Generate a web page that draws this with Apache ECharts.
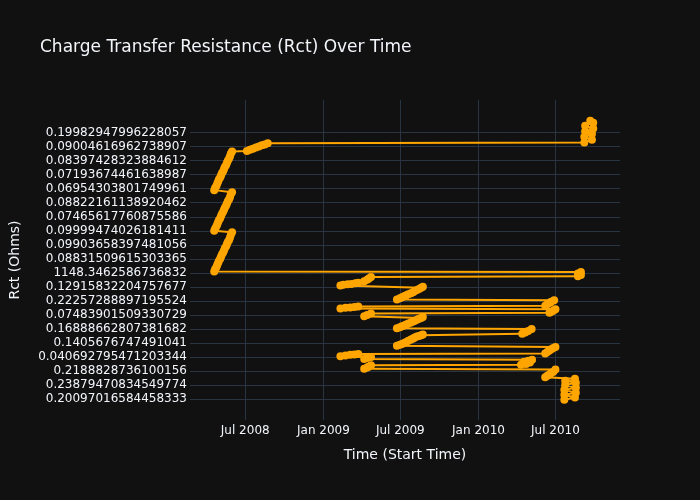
<!DOCTYPE html>
<html>
<head>
<meta charset="utf-8">
<script src="https://cdn.jsdelivr.net/npm/echarts@6/dist/echarts.min.js"></script>
<style>html,body{margin:0;padding:0;background:#111111;}#c{width:700px;height:500px;}</style>
</head>
<body>
<div id="c"></div>
<script>
// Category labels of the Rct axis (bottom to top), as printed on the chart
const yTickLabels = [
  '0.20097016584458333','0.23879470834549774','0.2188828736100156','0.040692795471203344',
  '0.1405676747491041','0.16888662807381682','0.07483901509330729','0.22257288897195524',
  '0.12915832204757677','1148.3462586736832','0.08831509615303365','0.09903658397481056',
  '0.09999474026181411','0.07465617760875586','0.08822161138920462','0.06954303801749961',
  '0.07193674461638987','0.08397428323884612','0.09004616962738907','0.19982947996228057'
];
const xTickDates = ['2008-07-01','2009-01-01','2009-07-01','2010-01-01','2010-07-01'];
const xTickLabels = ['Jul 2008','Jan 2009','Jul 2009','Jan 2010','Jul 2010'];

// Start time of each measurement (data order)
const startTimes = [
  '2010-07-22','2010-08-16','2010-07-22','2010-08-18','2010-07-22','2010-08-18','2010-07-24','2010-08-18','2010-07-24','2010-08-16',
  '2010-06-07','2010-06-12','2010-06-17','2010-06-21','2010-06-26','2010-07-01',
  '2009-04-07','2009-04-14','2009-04-18','2009-04-23',
  '2010-04-11','2010-04-23','2010-05-02','2010-04-18','2010-04-28','2010-05-07',
  '2009-04-07','2009-04-14','2009-04-23',
  '2009-02-10','2009-02-22','2009-03-05','2009-03-15','2009-03-24',
  '2010-06-07','2010-06-12','2010-06-17','2010-06-21','2010-06-26','2010-07-01',
  '2009-06-23','2009-06-30','2009-07-05','2009-07-10','2009-07-15','2009-07-20','2009-07-26','2009-07-31','2009-08-04','2009-08-09','2009-08-14','2009-08-19','2009-08-23',
  '2010-04-14','2010-04-21','2010-04-28','2010-05-06',
  '2009-06-23','2009-06-30','2009-07-05','2009-07-10','2009-07-15','2009-07-20','2009-07-26','2009-07-31','2009-08-04','2009-08-09','2009-08-14','2009-08-19','2009-08-23',
  '2009-04-07','2009-04-14','2009-04-23',
  '2010-06-17','2010-06-21','2010-06-26','2010-07-01',
  '2009-02-10','2009-02-22','2009-03-05','2009-03-15','2009-03-24',
  '2010-06-07','2010-06-12','2010-06-17','2010-06-21','2010-06-28',
  '2009-06-23','2009-06-30','2009-07-05','2009-07-10','2009-07-15','2009-07-20','2009-07-26','2009-07-31','2009-08-04','2009-08-09','2009-08-14','2009-08-19','2009-08-23',
  '2009-02-10','2009-02-17','2009-02-27','2009-03-08','2009-03-17','2009-03-24',
  '2009-04-07','2009-04-14','2009-04-18','2009-04-23',
  '2010-08-23','2010-08-30','2010-08-23','2010-08-30',
  '2008-04-19','2008-04-21','2008-04-24','2008-04-26','2008-04-28','2008-04-30','2008-05-03','2008-05-05','2008-05-07','2008-05-10','2008-05-12','2008-05-14','2008-05-17','2008-05-19','2008-05-21','2008-05-24','2008-05-26','2008-05-28','2008-05-31',
  '2008-04-19','2008-04-21','2008-04-24','2008-04-26','2008-04-28','2008-04-30','2008-05-03','2008-05-05','2008-05-07','2008-05-10','2008-05-12','2008-05-14','2008-05-17','2008-05-19','2008-05-21','2008-05-24','2008-05-26','2008-05-28','2008-05-31',
  '2008-04-19','2008-04-21','2008-04-24','2008-04-26','2008-04-28','2008-04-30','2008-05-03','2008-05-05','2008-05-07','2008-05-10','2008-05-12','2008-05-14','2008-05-17','2008-05-19','2008-05-21','2008-05-24','2008-05-26','2008-05-28','2008-05-31',
  '2008-07-05','2008-07-12','2008-07-19','2008-07-26','2008-08-02','2008-08-09','2008-08-16','2008-08-23',
  '2010-09-07','2010-09-25','2010-09-07','2010-09-25','2010-09-09','2010-09-28','2010-09-09','2010-09-28','2010-09-21'
];
// Position of each Rct value on the categorical axis, in units of labelled ticks
const rctRank = [
  -0.05,0.1,0.3,0.45,0.65,0.8,1.0,1.15,1.3,1.45,
  1.55,1.65,1.75,1.85,1.95,2.1,
  2.15,2.25,2.32,2.4,
  2.45,2.5,2.6,2.65,2.72,2.8,
  2.85,2.92,3.0,
  3.05,3.1,3.15,3.17,3.2,
  3.25,3.35,3.45,3.55,3.63,3.7,
  3.8,3.87,3.93,4.0,4.07,4.15,4.25,4.32,4.38,4.45,4.5,4.55,4.6,
  4.65,4.75,4.85,5.0,
  5.05,5.12,5.19,5.25,5.32,5.39,5.45,5.52,5.58,5.65,5.72,5.78,5.85,
  5.9,6.0,6.1,
  6.15,6.22,6.3,6.4,
  6.45,6.5,6.53,6.56,6.6,
  6.65,6.75,6.85,6.93,7.05,
  7.1,7.18,7.25,7.32,7.4,7.48,7.55,7.62,7.7,7.78,7.85,7.93,8.0,
  8.1,8.15,8.18,8.2,8.25,8.3,
  8.4,8.5,8.6,8.7,
  8.75,8.85,8.95,9.05,
  9.1,9.25,9.4,9.55,9.7,9.85,10.0,10.15,10.3,10.45,10.6,10.75,10.9,11.05,11.2,11.35,11.5,11.7,11.9,
  12.0,12.15,12.3,12.45,12.6,12.75,12.9,13.05,13.2,13.35,13.5,13.65,13.8,13.95,14.1,14.25,14.4,14.6,14.75,
  14.9,15.05,15.2,15.35,15.5,15.65,15.8,15.95,16.1,16.25,16.4,16.55,16.7,16.85,17.0,17.15,17.3,17.5,17.65,
  17.7,17.78,17.85,17.95,18.02,18.1,18.16,18.24,
  18.3,18.5,18.7,18.9,19.1,19.3,19.5,19.7,19.85
];

function parseLocal(s) {
  const p = s.split('-').map(Number);
  return new Date(p[0], p[1] - 1, p[2]).getTime();
}
const xTickValues = xTickDates.map(parseLocal);
const seriesData = startTimes.map((t, i) => [parseLocal(t), rctRank[i]]);
const yTickValues = yTickLabels.map((_, i) => i);

const chart = echarts.init(document.getElementById('c'), null, {renderer: 'canvas'});
const textColor = '#f2f5fa';
const gridColor = '#283442';
const font = '"DejaVu Sans", Verdana, sans-serif';

chart.setOption({
  backgroundColor: '#111111',
  animation: false,
  title: {
    text: 'Charge Transfer Resistance (Rct) Over Time',
    left: 35, top: 34,
    textStyle: {color: textColor, fontSize: 17, fontWeight: 'normal', fontFamily: font}
  },
  grid: {left: 188, right: 80, top: 100, bottom: 80, containLabel: false},
  xAxis: {
    type: 'value',
    min: parseLocal('2008-02-22'),
    max: parseLocal('2010-11-30'),
    name: 'Time (Start Time)',
    nameLocation: 'middle',
    nameGap: 28,
    nameTextStyle: {color: textColor, fontSize: 14, fontFamily: font},
    axisLine: {show: false},
    axisTick: {show: false, customValues: xTickValues},
    axisLabel: {
      customValues: xTickValues,
      color: textColor, fontSize: 12, fontFamily: font, margin: 5,
      formatter: function (v) {
        const i = xTickValues.indexOf(v);
        return i >= 0 ? xTickLabels[i] : '';
      }
    },
    splitLine: {show: true, lineStyle: {color: gridColor, width: 1}}
  },
  yAxis: {
    type: 'value',
    min: -1.5,
    max: 21.33,
    name: 'Rct (Ohms)',
    nameLocation: 'middle',
    nameGap: 168,
    nameTextStyle: {color: textColor, fontSize: 14, fontFamily: font},
    axisLine: {show: false},
    axisTick: {show: false, customValues: yTickValues},
    axisLabel: {
      customValues: yTickValues,
      color: textColor, fontSize: 12, fontFamily: font, margin: 3,
      formatter: function (v) {
        const i = Math.round(v);
        return yTickLabels[i] !== undefined ? yTickLabels[i] : '';
      }
    },
    splitLine: {show: true, lineStyle: {color: gridColor, width: 1}}
  },
  series: [{
    type: 'line',
    data: seriesData,
    symbol: 'circle',
    symbolSize: 8,
    showAllSymbol: true,
    clip: false,
    lineStyle: {color: '#FFA500', width: 2},
    itemStyle: {color: '#FFA500'}
  }]
});
</script>
</body>
</html>
